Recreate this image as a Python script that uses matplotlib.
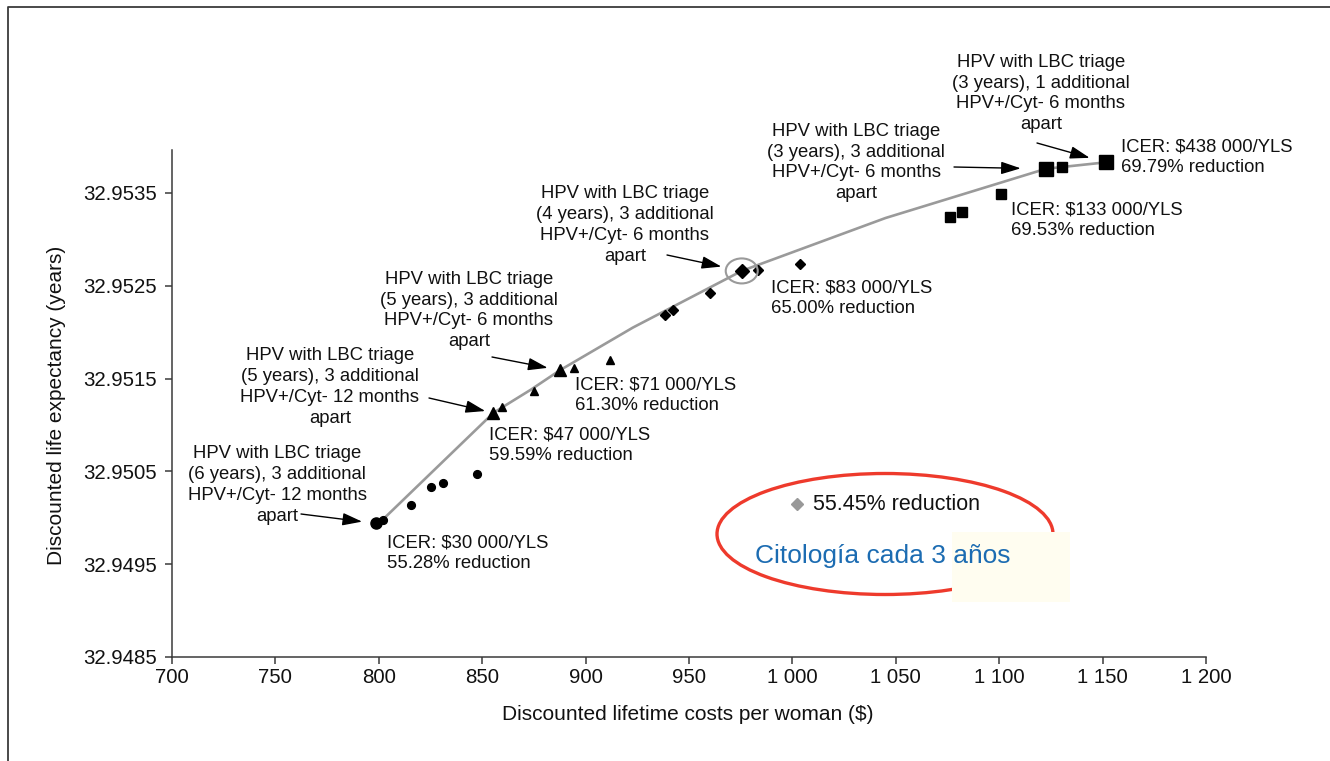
import matplotlib
matplotlib.use("Agg")
import matplotlib.pyplot as plt
from matplotlib.lines import Line2D
from matplotlib.patches import Ellipse, Rectangle

plt.rcParams["font.family"] = ["Liberation Sans", "DejaVu Sans"]

W, H = 1330, 761

# strategies grouped by screening interval (cost $, life expectancy years)
cost_6y = [798.6, 801.9, 815.6, 825.2, 831.2, 847.3]
le_6y = [32.94994, 32.94998, 32.95014, 32.95033, 32.95037, 32.95047]
big_6y = [0]

cost_5y = [855.4, 859.7, 875.0, 887.6, 894.5, 911.8]
le_5y = [32.95113, 32.95119, 32.95137, 32.95159, 32.95161, 32.95170]
big_5y = [0, 3]

cost_4y = [938.4, 942.4, 960.2, 975.5, 983.5, 1003.7]
le_4y = [32.95219, 32.95224, 32.95242, 32.95266, 32.95267, 32.95274]
big_4y = [3]

cost_3y = [1076.2, 1081.9, 1100.9, 1122.5, 1130.5, 1151.5]
le_3y = [32.95324, 32.95330, 32.95349, 32.95376, 32.95378, 32.95383]
big_3y = [3, 5]

# efficiency frontier
frontier_cost = [798.6, 801.9, 855.4, 859.7, 873.5, 887.6, 922.9, 975.5,
                 1045.0, 1122.5, 1130.5, 1151.5]
frontier_le = [32.94994, 32.94998, 32.95113, 32.95119, 32.95138, 32.95159,
               32.95205, 32.95266, 32.95323, 32.95376, 32.95378, 32.95383]

x_ticks = [700, 750, 800, 850, 900, 950, 1000, 1050, 1100, 1150, 1200]
x_ticklabels = ["700", "750", "800", "850", "900", "950", "1 000", "1 050",
                "1 100", "1 150", "1 200"]
y_ticks = [32.9485, 32.9495, 32.9505, 32.9515, 32.9525, 32.9535]

strategy_labels = [
    "HPV with LBC triage\n(6 years), 3 additional\nHPV+/Cyt- 12 months\napart",
    "HPV with LBC triage\n(5 years), 3 additional\nHPV+/Cyt- 12 months\napart",
    "HPV with LBC triage\n(5 years), 3 additional\nHPV+/Cyt- 6 months\napart",
    "HPV with LBC triage\n(4 years), 3 additional\nHPV+/Cyt- 6 months\napart",
    "HPV with LBC triage\n(3 years), 3 additional\nHPV+/Cyt- 6 months\napart",
    "HPV with LBC triage\n(3 years), 1 additional\nHPV+/Cyt- 6 months\napart",
]
icer_labels = [
    "ICER: $30 000/YLS\n55.28% reduction",
    "ICER: $47 000/YLS\n59.59% reduction",
    "ICER: $71 000/YLS\n61.30% reduction",
    "ICER: $83 000/YLS\n65.00% reduction",
    "ICER: $133 000/YLS\n69.53% reduction",
    "ICER: $438 000/YLS\n69.79% reduction",
]
cytology_reduction = "55.45% reduction"
cytology_label = "Citología cada 3 años"

fig = plt.figure(figsize=(W / 100, H / 100), dpi=100)
ax = fig.add_axes([172 / W, (H - 657) / H, (1206 - 172) / W, (657 - 150) / H])


def fpx(x, y):
    # figure position from pixel position measured from the top-left corner
    return x / W, 1 - y / H


# outer frame (only left and top edges are inside the canvas)
fig.add_artist(Line2D([8 / W, 8 / W, 1.0], [0.0, 1 - 7 / H, 1 - 7 / H],
                      transform=fig.transFigure, color="#3a3a3a", lw=1.3))

ax.plot(frontier_cost, frontier_le, color="#9a9a9a", lw=1.9, zorder=2)

groups = [
    (cost_6y, le_6y, big_6y, "o", 5.6, 8.0),
    (cost_5y, le_5y, big_5y, "^", 6.2, 8.8),
    (cost_4y, le_4y, big_4y, "D", 4.6, 6.8),
    (cost_3y, le_3y, big_3y, "s", 7.4, 9.5),
]
for cx, cy, big, mk, ms_small, ms_big in groups:
    for i, (xv, yv) in enumerate(zip(cx, cy)):
        ms = ms_big if i in big else ms_small
        ax.plot(xv, yv, marker=mk, ms=ms, color="black", mec="black",
                ls="none", zorder=3)

ax.add_patch(Ellipse((cost_4y[3], le_4y[3]), 32 * 500 / 1034,
                     25 * 0.001 / 92.8, fill=False, ec="#9a9a9a", lw=1.5,
                     zorder=4))

ax.set_xlim(700, 1200)
ax.set_ylim(32.9485, 32.953963)
ax.set_xticks(x_ticks)
ax.set_xticklabels(x_ticklabels)
ax.set_yticks(y_ticks)
ax.set_yticklabels([f"{v:.4f}" for v in y_ticks])
for side in ["top", "right"]:
    ax.spines[side].set_visible(False)
for side in ["left", "bottom"]:
    ax.spines[side].set_color("#3a3a3a")
    ax.spines[side].set_linewidth(1.1)
ax.tick_params(axis="both", direction="out", length=5, width=1.1,
               color="#3a3a3a", labelsize=14.7, labelcolor="#111111")
ax.tick_params(axis="y", pad=6)
ax.tick_params(axis="x", pad=3)

fig.text(*fpx(688, 714), "Discounted lifetime costs per woman ($)",
         ha="center", va="center", fontsize=15, color="#111111")
fig.text(*fpx(57, 405), "Discounted life expectancy (years)", rotation=90,
         ha="center", va="center", fontsize=15, color="#111111")

# strategy descriptions, ICER notes and arrows
label_pos = [(277, 485), (330, 387), (469, 310.5), (625, 225),
             (856, 162.5), (1041, 93.5)]
icer_pos = [(387, 553.5), (489, 445), (575, 395), (771, 298),
            (1011, 220), (1121, 157)]
arrow_tail = [(301, 514), (429, 398), (492, 357), (667, 255),
              (954, 167), (1037, 143)]
arrow_target = [(cost_6y[0], le_6y[0]), (cost_5y[0], le_5y[0]),
                (cost_5y[3], le_5y[3]), (cost_4y[3], le_4y[3]),
                (cost_3y[3], le_3y[3]), (cost_3y[5], le_3y[5])]
arrow_shrink = [10, 6, 9, 15, 18, 12]

for txt, pos in zip(strategy_labels, label_pos):
    fig.text(*fpx(*pos), txt, ha="center", va="center", fontsize=13.3,
             linespacing=1.3, color="#111111")
for txt, pos in zip(icer_labels, icer_pos):
    fig.text(*fpx(*pos), txt, ha="left", va="center", fontsize=13.3,
             linespacing=1.3, color="#111111")
for tail, target, shr in zip(arrow_tail, arrow_target, arrow_shrink):
    ax.annotate("", xy=target, xycoords="data",
                xytext=(tail[0], H - tail[1]), textcoords="figure pixels",
                arrowprops=dict(arrowstyle="-|>,head_length=1.0,head_width=0.32",
                                color="black", lw=1.0, shrinkA=0, shrinkB=shr,
                                mutation_scale=12))

# cytology comparator box
fig.add_artist(Ellipse(fpx(885, 534), 336 / W, 121 / H,
                       transform=fig.transFigure, fill=False, ec="#ee3a2c",
                       lw=2.4, zorder=5))
fig.add_artist(Rectangle(fpx(952, 602), 118 / W, 70 / H,
                         transform=fig.transFigure, fc="#fffdf0", ec="none",
                         zorder=6))
fig.add_artist(Line2D([797 / W], [1 - 504 / H], marker="D", ms=6,
                      color="#999999", ls="none", transform=fig.transFigure,
                      zorder=7))
fig.text(*fpx(813, 504), cytology_reduction, ha="left", va="center",
         fontsize=15.5, color="#111111", zorder=7)
fig.text(*fpx(755, 556), cytology_label, ha="left", va="center",
         fontsize=19, color="#1c6cb2", zorder=7)

fig.savefig("out.png", dpi=100)
